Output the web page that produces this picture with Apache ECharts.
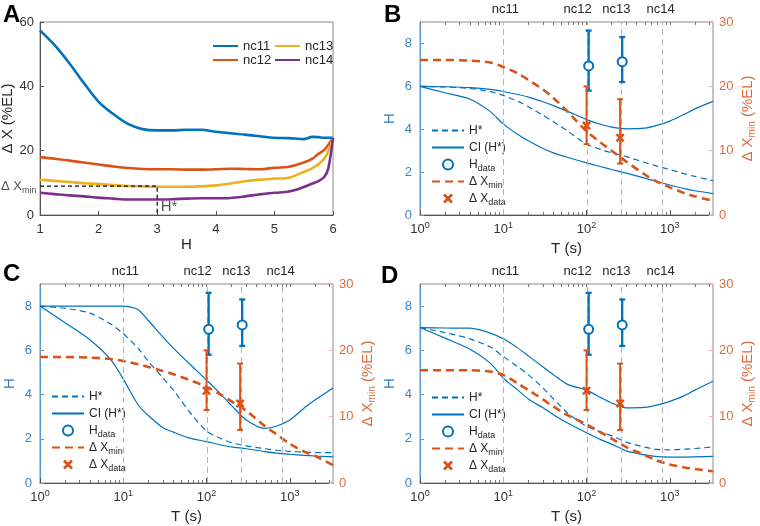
<!DOCTYPE html>
<html>
<head>
<meta charset="utf-8">
<script src="https://cdn.jsdelivr.net/npm/echarts@6/dist/echarts.min.js"></script>
<style>
  html, body { margin: 0; padding: 0; background: #fff; }
  #chart { width: 760px; height: 526px; }
</style>
</head>
<body>
<div id="chart"></div>
<script>
// panel A: delta X against H, one curve per cycle
var hGrid = [1, 1.25, 1.5, 1.75, 2, 2.25, 2.5, 2.75, 3, 3.25, 3.5, 3.75, 4, 4.25, 4.5, 4.75, 5, 5.25, 5.5, 5.65, 5.75, 5.85, 5.92, 6];
var nc11 = [57.4, 52.8, 47.2, 41.0, 35.2, 31.4, 28.3, 26.7, 26.3, 26.3, 26.5, 26.5, 25.9, 25.4, 25.0, 24.5, 24.0, 23.9, 23.6, 24.3, 24.2, 24.0, 24.0, 24.0];
var nc12 = [18.0, 17.5, 16.9, 16.3, 15.7, 15.1, 14.6, 14.3, 14.2, 14.2, 14.1, 14.1, 14.2, 14.4, 14.3, 14.2, 14.7, 15.0, 16.3, 17.5, 19.0, 20.2, 21.8, 24.0];
var nc13 = [11.0, 10.6, 10.25, 9.9, 9.6, 9.3, 9.0, 8.9, 8.8, 8.8, 8.8, 8.9, 9.2, 9.8, 10.5, 11.0, 11.3, 11.6, 13.4, 14.6, 15.8, 17.5, 19.8, 24.0];
var nc14 = [6.9, 6.5, 6.1, 5.8, 5.4, 5.1, 4.8, 4.8, 4.8, 4.9, 5.1, 5.2, 5.2, 5.3, 5.8, 6.4, 6.9, 7.3, 8.7, 9.8, 10.5, 11.8, 14.5, 24.0];
var hStarA = 3, dxMinA = 9;

// panels B-D: model curves against T (s)
var tGrid = [1, 2, 4, 7, 10, 15, 20, 30, 40, 60, 100, 150, 200, 300, 500, 700, 1000, 1500, 2000, 3300];
var hStarB = [6.0, 5.97, 5.9, 5.75, 5.58, 5.3, 5.05, 4.65, 4.35, 3.9, 3.3, 3.05, 2.9, 2.72, 2.45, 2.28, 2.12, 1.92, 1.8, 1.6];
var ciUpB  = [6.0, 5.98, 5.94, 5.86, 5.76, 5.62, 5.5, 5.28, 5.1, 4.82, 4.45, 4.22, 4.1, 4.02, 4.05, 4.18, 4.38, 4.7, 4.95, 5.3];
var ciLoB  = [6.0, 5.7, 5.4, 4.82, 4.25, 3.75, 3.46, 3.1, 2.9, 2.68, 2.43, 2.25, 2.12, 1.95, 1.72, 1.56, 1.4, 1.23, 1.13, 1.0];
var dxMinB = [24.1, 24.1, 24.0, 23.7, 23.0, 22.0, 21.0, 19.5, 18.2, 16.0, 13.0, 11.2, 10.0, 8.3, 6.3, 5.2, 4.3, 3.4, 2.9, 2.2];

var hStarC = [8.0, 7.9, 7.68, 7.2, 6.75, 6.1, 5.5, 4.75, 4.2, 3.3, 2.35, 2.0, 1.82, 1.68, 1.55, 1.48, 1.43, 1.4, 1.38, 1.37];
var ciUpC  = [8.0, 8.0, 8.0, 8.0, 8.0, 7.85, 7.35, 6.6, 6.1, 5.45, 4.66, 4.0, 3.5, 2.85, 2.47, 2.58, 2.85, 3.4, 3.75, 4.3];
var ciLoC  = [8.0, 7.25, 6.47, 5.6, 4.7, 3.55, 3.05, 2.5, 2.3, 2.05, 1.87, 1.72, 1.63, 1.55, 1.42, 1.35, 1.3, 1.25, 1.22, 1.18];
var dxMinC = [19.0, 19.0, 18.9, 18.7, 18.4, 17.9, 17.5, 16.9, 16.4, 15.6, 14.5, 13.3, 12.3, 10.9, 8.6, 7.3, 5.9, 4.7, 4.1, 2.7];

var hStarD = [7.03, 6.8, 6.52, 6.15, 5.72, 5.25, 4.9, 4.3, 3.8, 3.15, 2.56, 2.3, 2.13, 1.85, 1.62, 1.52, 1.5, 1.53, 1.56, 1.63];
var ciUpD  = [7.03, 7.01, 7.0, 6.78, 6.52, 6.1, 5.75, 5.25, 4.9, 4.45, 4.2, 3.85, 3.62, 3.4, 3.42, 3.52, 3.69, 3.95, 4.2, 4.6];
var ciLoD  = [7.03, 6.55, 6.05, 5.42, 4.74, 4.2, 3.8, 3.4, 3.09, 2.7, 2.27, 1.95, 1.76, 1.45, 1.27, 1.19, 1.17, 1.17, 1.18, 1.2];
var dxMinD = [17.0, 17.0, 17.0, 16.8, 16.3, 15.0, 14.0, 12.6, 11.5, 10.2, 8.85, 7.6, 6.7, 5.4, 4.2, 3.4, 2.8, 2.35, 2.1, 1.76];

// measured points (same in B, C, D)
var hDataT = [106, 268];
var hData = [6.95, 7.15];
var hDataLo = [5.8, 6.2];
var hDataHi = [8.6, 8.3];
var dxDataT = [100, 253];
var dxData = [13.9, 12.0];
var dxDataLo = [11.0, 8.0];
var dxDataHi = [20.0, 18.0];

var ncNames = ['nc11', 'nc12', 'nc13', 'nc14'];
var ncT = [10, 103, 262, 820];
var decadeTicks = [1, 10, 100, 1000];
var minorTicks = [2, 3, 4, 5, 6, 7, 8, 9, 20, 30, 40, 50, 60, 70, 80, 90, 200, 300, 400, 500, 600, 700, 800, 900, 2000, 3000];

var BLUE = '#0072BD', ORANGE = '#D95319', YELLOW = '#EDB120', PURPLE = '#7E2F8E';
var FONT = 'Liberation Sans, Arial, sans-serif';

function pairs(xs, ys) {
    return xs.map(function (x, i) { return [x, ys[i]]; });
}

var subRich = {
    sub: { fontSize: 10, padding: [9, 0, 0, 0], fontFamily: FONT },
    sup: { fontSize: 9, padding: [0, 0, 8, 0], fontFamily: FONT }
};

function errRender(width) {
    return function (params, api) {
        var x = api.value(0);
        var a = api.coord([x, api.value(1)]);
        var b = api.coord([x, api.value(2)]);
        var st = { stroke: api.visual('color'), lineWidth: width };
        return {
            type: 'group',
            children: [
                { type: 'line', shape: { x1: a[0], y1: a[1], x2: b[0], y2: b[1] }, style: st },
                { type: 'line', shape: { x1: a[0] - 3, y1: a[1], x2: a[0] + 3, y2: a[1] }, style: st },
                { type: 'line', shape: { x1: b[0] - 3, y1: b[1], x2: b[0] + 3, y2: b[1] }, style: st }
            ]
        };
    };
}

var grids = [
    { left: 40, top: 22, width: 293, height: 193 },
    { left: 420, top: 22, width: 293, height: 193 },
    { left: 40, top: 284, width: 293, height: 199 },
    { left: 420, top: 284, width: 293, height: 199 }
].map(function (g) {
    g.show = true;
    g.borderColor = '#8a8a8a';
    g.borderWidth = 1;
    g.outerBoundsMode = 'none';
    return g;
});

var xAxes = [{
    type: 'value', gridIndex: 0, min: 1, max: 6, interval: 1,
    name: 'H', nameLocation: 'middle', nameGap: 21,
    nameTextStyle: { fontSize: 15, color: '#262626', fontFamily: FONT },
    axisLine: { lineStyle: { color: '#555' } },
    axisTick: { inside: true, length: 4, lineStyle: { color: '#555' } },
    axisLabel: { fontSize: 13, color: '#333', margin: 8, fontFamily: FONT },
    splitLine: { show: false }
}];
var yAxes = [{
    type: 'value', gridIndex: 0, min: 0, max: 60, interval: 20,
    name: 'Δ X (%EL)', nameLocation: 'middle', nameGap: 21, nameRotate: 90,
    nameTextStyle: { fontSize: 15, color: '#262626', fontFamily: FONT },
    axisLine: { show: true, lineStyle: { color: '#555' } },
    axisTick: { show: true, inside: true, length: 4, lineStyle: { color: '#555' } },
    axisLabel: { fontSize: 13, color: '#333', margin: 6, fontFamily: FONT },
    splitLine: { show: false }
}];

[1, 2, 3].forEach(function (g) {
    // main bottom log axis with decade labels
    xAxes.push({
        type: 'log', logBase: 10, gridIndex: g, min: 1, max: 3300,
        name: 'T (s)', nameLocation: 'middle', nameGap: 26,
        nameTextStyle: { fontSize: 15, color: '#262626', fontFamily: FONT },
        axisLine: { lineStyle: { color: '#555' } },
        axisTick: { inside: true, length: 5, customValues: decadeTicks, lineStyle: { color: '#555' } },
        axisLabel: {
            fontSize: 13, color: '#333', margin: 6, fontFamily: FONT,
            customValues: decadeTicks,
            formatter: function (v) {
                return '10{sup|' + Math.round(Math.log10(v)) + '}';
            },
            rich: subRich
        },
        splitLine: { show: false }
    });
    // minor ticks, bottom
    xAxes.push({
        type: 'log', logBase: 10, gridIndex: g, min: 1, max: 3300, position: 'bottom',
        axisLine: { show: false },
        axisTick: { inside: true, length: 3, customValues: minorTicks, lineStyle: { color: '#777' } },
        axisLabel: { show: false },
        splitLine: { show: false }
    });
    // mirrored ticks, top
    xAxes.push({
        type: 'log', logBase: 10, gridIndex: g, min: 1, max: 3300, position: 'top',
        axisLine: { show: false },
        axisTick: { inside: true, length: 3, customValues: decadeTicks.concat(minorTicks), lineStyle: { color: '#777' } },
        axisLabel: { show: false },
        splitLine: { show: false }
    });
    yAxes.push({
        type: 'value', gridIndex: g, min: 0, max: 9, interval: 2, position: 'left',
        name: 'H', nameLocation: 'middle', nameGap: 23, nameRotate: 90,
        nameTextStyle: { fontSize: 15, color: '#2b7cc0', fontFamily: FONT },
        axisLine: { show: true, lineStyle: { color: '#5b9bd0' } },
        axisTick: { show: true, inside: true, length: 4, lineStyle: { color: '#5b9bd0' } },
        axisLabel: { fontSize: 13, color: '#3a86c6', margin: 8, fontFamily: FONT, showMaxLabel: false },
        splitLine: { show: false }
    });
    yAxes.push({
        type: 'value', gridIndex: g, min: 0, max: 30, interval: 10, position: 'right',
        name: 'Δ X{sub|min} (%EL)', nameLocation: 'middle', nameGap: 25, nameRotate: 90,
        nameTextStyle: { fontSize: 15, color: '#dd6a3a', fontFamily: FONT, rich: subRich },
        axisLine: { show: true, lineStyle: { color: '#e9b9a0' } },
        axisTick: { show: true, inside: true, length: 4, lineStyle: { color: '#e9b9a0' } },
        axisLabel: { fontSize: 13, color: '#dd6a3a', margin: 6, fontFamily: FONT },
        splitLine: { show: false }
    });
});

var series = [];
[['nc11', nc11, BLUE], ['nc12', nc12, ORANGE], ['nc13', nc13, YELLOW], ['nc14', nc14, PURPLE]].forEach(function (s) {
    series.push({
        name: s[0], type: 'line', xAxisIndex: 0, yAxisIndex: 0,
        data: pairs(hGrid, s[1]), symbol: 'none', smooth: 0.3,
        lineStyle: { color: s[2], width: 2.6 }, itemStyle: { color: s[2] }
    });
});
// H* construction in panel A
series.push({
    name: 'guide', type: 'line', xAxisIndex: 0, yAxisIndex: 0,
    data: [[1, dxMinA], [hStarA, dxMinA], [hStarA, 0]], symbol: 'none',
    lineStyle: { color: '#111', width: 1.3, type: [4, 3] }, z: 5
});
series.push({
    name: 'guideText', type: 'scatter', xAxisIndex: 0, yAxisIndex: 0,
    symbolSize: 1, itemStyle: { color: 'rgba(0,0,0,0)' },
    data: [
        { value: [1, dxMinA], label: { show: true, position: 'left', distance: 3, formatter: 'Δ X{sub|min}', fontSize: 13, color: '#262626', fontFamily: FONT, rich: { sub: { fontSize: 9, padding: [8, 0, 0, 0], fontFamily: FONT } } } },
        { value: [hStarA, 0], label: { show: true, position: 'right', distance: 3, offset: [0, -8], formatter: 'H*', fontSize: 15, color: '#262626', fontFamily: FONT } }
    ]
});

var panels = [
    [hStarB, ciUpB, ciLoB, dxMinB],
    [hStarC, ciUpC, ciLoC, dxMinC],
    [hStarD, ciUpD, ciLoD, dxMinD]
];
var ncNudge = [2, -10, -5, -2];
panels.forEach(function (p, i) {
    var xi = 1 + i * 3, yl = 1 + i * 2, yr = 2 + i * 2;
    series.push({
        name: 'H*', type: 'line', xAxisIndex: xi, yAxisIndex: yl,
        data: pairs(tGrid, p[0]), symbol: 'none', smooth: 0.25,
        lineStyle: { color: BLUE, width: 1.2, type: [6, 4] }, itemStyle: { color: BLUE },
        markLine: {
            silent: true, symbol: 'none', animation: false,
            lineStyle: { color: '#b5b5b5', width: 1, type: [6, 4] },
            label: { show: true, position: 'end', distance: 6, fontSize: 13, color: '#262626', fontFamily: FONT },
            data: ncT.map(function (t, k) {
                return { xAxis: t, name: ncNames[k], label: { formatter: ncNames[k], offset: [ncNudge[k], 0] } };
            })
        },
        z: 3
    });
    series.push({
        name: 'CI (H*)', type: 'line', xAxisIndex: xi, yAxisIndex: yl,
        data: pairs(tGrid, p[1]), symbol: 'none', smooth: 0.25,
        lineStyle: { color: BLUE, width: 1.2 }, itemStyle: { color: BLUE }, z: 3
    });
    series.push({
        name: 'CI (H*)', type: 'line', xAxisIndex: xi, yAxisIndex: yl,
        data: pairs(tGrid, p[2]), symbol: 'none', smooth: 0.25,
        lineStyle: { color: BLUE, width: 1.2 }, itemStyle: { color: BLUE }, z: 3
    });
    series.push({
        name: 'ΔXmin', type: 'line', xAxisIndex: xi, yAxisIndex: yr,
        data: pairs(tGrid, p[3]), symbol: 'none', smooth: 0.25,
        lineStyle: { color: ORANGE, width: 2.6, type: [8, 5] }, itemStyle: { color: ORANGE }, z: 4
    });
    series.push({
        name: 'hErr', type: 'custom', xAxisIndex: xi, yAxisIndex: yl,
        renderItem: errRender(2.3), itemStyle: { color: BLUE },
        encode: { x: 0, y: [1, 2] },
        data: hDataT.map(function (t, k) { return [t, hDataLo[k], hDataHi[k]]; }), z: 5
    });
    series.push({
        name: 'Hdata', type: 'scatter', xAxisIndex: xi, yAxisIndex: yl,
        data: pairs(hDataT, hData), symbol: 'emptyCircle', symbolSize: 9,
        itemStyle: { color: BLUE, borderColor: BLUE, borderWidth: 2.4, opacity: 1 }, z: 6
    });
    series.push({
        name: 'dxErr', type: 'custom', xAxisIndex: xi, yAxisIndex: yr,
        renderItem: errRender(2), itemStyle: { color: ORANGE },
        encode: { x: 0, y: [1, 2] },
        data: dxDataT.map(function (t, k) { return [t, dxDataLo[k], dxDataHi[k]]; }), z: 5
    });
    series.push({
        name: 'ΔXdata', type: 'scatter', xAxisIndex: xi, yAxisIndex: yr,
        data: pairs(dxDataT, dxData),
        symbol: 'path://M2,0L5,3L8,0L10,2L7,5L10,8L8,10L5,7L2,10L0,8L3,5L0,2Z', symbolSize: 9,
        itemStyle: { color: ORANGE, opacity: 1 }, z: 6
    });
});

var noMark = { opacity: 0 };
var legendNames = { 'Hdata': 'H{sub|data}', 'ΔXmin': 'Δ X{sub|min}', 'ΔXdata': 'Δ X{sub|data}' };
function panelLegend(left, top) {
    return {
        data: [
            { name: 'H*', itemStyle: noMark },
            { name: 'CI (H*)', itemStyle: noMark },
            { name: 'Hdata', itemStyle: { opacity: 1, borderWidth: 2.4 } },
            { name: 'ΔXmin', itemStyle: noMark },
            { name: 'ΔXdata', itemStyle: { opacity: 1 } }
        ],
        orient: 'vertical', left: left, top: top,
        itemWidth: 32, itemHeight: 10, itemGap: 0, selectedMode: false,
        formatter: function (n) { return legendNames[n] || n; },
        textStyle: {
            fontSize: 12, color: '#262626', fontFamily: FONT, lineHeight: 17,
            rich: { sub: { fontSize: 9, padding: [8, 0, 0, 0], fontFamily: FONT } }
        }
    };
}
function legendA(names, left) {
    return {
        data: names.map(function (n) { return { name: n, itemStyle: noMark }; }),
        orient: 'vertical', left: left, top: 34, itemWidth: 25, itemHeight: 10, itemGap: 0, selectedMode: false,
        textStyle: { fontSize: 13, color: '#262626', fontFamily: FONT, lineHeight: 14 }
    };
}

var chart = echarts.init(document.getElementById('chart'), null, { renderer: 'canvas' });
chart.setOption({
    animation: false,
    backgroundColor: '#fff',
    grid: grids,
    xAxis: xAxes,
    yAxis: yAxes,
    legend: [
        legendA(['nc11', 'nc12'], 207),
        legendA(['nc13', 'nc14'], 269),
        panelLegend(426, 117),
        panelLegend(46, 383),
        panelLegend(426, 384)
    ],
    graphic: [
        { type: 'text', left: 3, top: 3, style: { text: 'A', font: 'bold 24px ' + FONT, fill: '#000' } },
        { type: 'text', left: 384, top: 3, style: { text: 'B', font: 'bold 24px ' + FONT, fill: '#000' } },
        { type: 'text', left: 3, top: 262, style: { text: 'C', font: 'bold 24px ' + FONT, fill: '#000' } },
        { type: 'text', left: 381, top: 264, style: { text: 'D', font: 'bold 24px ' + FONT, fill: '#000' } }
    ],
    series: series
});
</script>
</body>
</html>
